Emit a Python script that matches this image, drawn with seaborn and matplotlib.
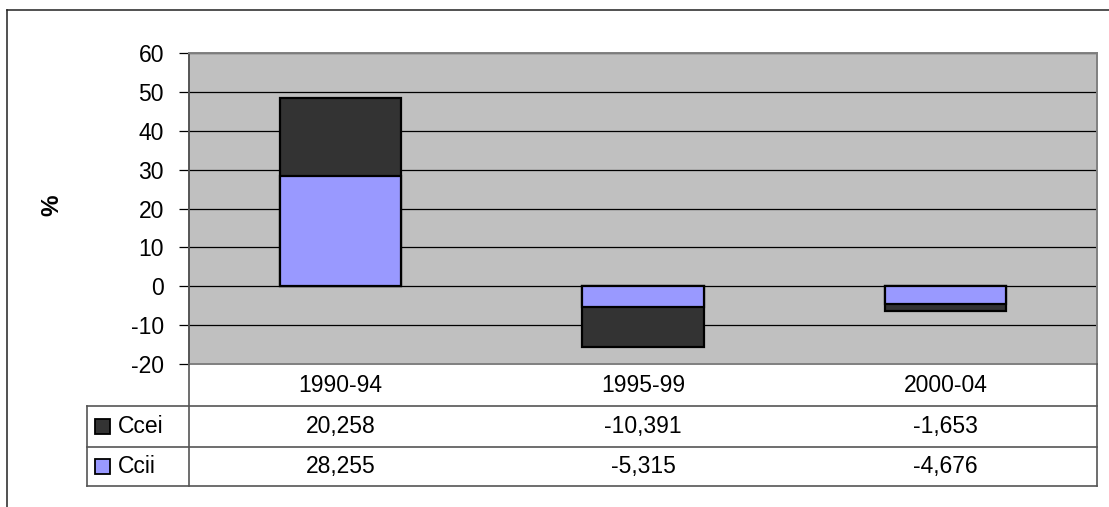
import matplotlib
matplotlib.use("Agg")
import matplotlib.pyplot as plt
import seaborn as sns
import numpy as np
from matplotlib.lines import Line2D
from matplotlib.patches import Rectangle
from matplotlib.transforms import blended_transform_factory

# data
periods = ['1990-94', '1995-99', '2000-04']
ccei = [20.258, -10.391, -1.653]
ccii = [28.255, -5.315, -4.676]
series_names = ['Ccei', 'Ccii']
series_colors = ['#333333', '#9999FF']
yticks = [-20, -10, 0, 10, 20, 30, 40, 50, 60]

plt.rcParams['font.family'] = ['Liberation Sans', 'DejaVu Sans']
FS = 16.5

W, H = 1109, 507
fig = plt.figure(figsize=(W / 100, H / 100), dpi=100)
fig.patch.set_facecolor('white')


def fx(px):
    return px / W


def fy(py):
    return 1 - py / H


# plot area in pixel terms
L, R, T, B = 189, 1097, 53, 364
ax = fig.add_axes([fx(L), fy(B), fx(R - L), (B - T) / H])
ax.set_facecolor('#C0C0C0')

# stacked bars: draw the total first, then Ccii over it
totals = list(np.array(ccii) + np.array(ccei))
sns.barplot(x=periods, y=totals, color=series_colors[0], saturation=1,
            edgecolor='black', linewidth=1.6, width=0.4, ax=ax, zorder=3)
sns.barplot(x=periods, y=ccii, color=series_colors[1], saturation=1,
            edgecolor='black', linewidth=1.6, width=0.4, ax=ax, zorder=4)

ax.set_ylim(-20, 60)
ax.set_yticks(yticks)
ax.set_yticklabels([str(t) for t in yticks], fontsize=FS)
ax.set_axisbelow(True)
ax.yaxis.grid(True, color='black', linewidth=0.9, zorder=0)
ax.xaxis.grid(False)
ax.tick_params(axis='y', length=7, width=0.9, color='black', pad=11, direction='out')
ax.tick_params(axis='x', length=0, labelbottom=False)
ax.set_xlabel('')
ax.set_ylabel('%', fontsize=FS + 1, fontweight='bold')
ax.yaxis.set_label_coords((63 - L) / (R - L), (B - 205) / (B - T))
for side in ['top', 'right', 'bottom']:
    ax.spines[side].set_color('#808080')
    ax.spines[side].set_linewidth(1.4)
ax.spines['left'].set_color('#555555')
ax.spines['left'].set_linewidth(1.4)

# data table under the plot
row_lines = [406, 447, 486]
tl, tr = 87, R
line_kw = dict(color='#555555', linewidth=1.2, transform=fig.transFigure)
for y in row_lines:
    fig.add_artist(Line2D([fx(tl), fx(tr)], [fy(y), fy(y)], **line_kw))
fig.add_artist(Line2D([fx(tl), fx(tl)], [fy(406), fy(486)], **line_kw))
fig.add_artist(Line2D([fx(L), fx(L)], [fy(B), fy(486)], **line_kw))
fig.add_artist(Line2D([fx(tr), fx(tr)], [fy(B), fy(486)], **line_kw))

trans = blended_transform_factory(ax.transData, fig.transFigure)
xpos = ax.get_xticks()
for x, p in zip(xpos, periods):
    ax.text(x, fy(385), p, transform=trans, ha='center', va='center',
            fontsize=FS, clip_on=False)

row_centers = [426.5, 466.5]
for name, color, vals, yc in zip(series_names, series_colors, [ccei, ccii], row_centers):
    fig.add_artist(Rectangle((fx(95), fy(yc + 7)), 15 / W, 15 / H,
                             facecolor=color, edgecolor='black', linewidth=1.3,
                             transform=fig.transFigure))
    fig.text(fx(118), fy(yc), name, ha='left', va='center', fontsize=FS)
    for x, v in zip(xpos, vals):
        ax.text(x, fy(yc), f'{v:.3f}'.replace('.', ','), transform=trans,
                ha='center', va='center', fontsize=FS, clip_on=False)

# chart frame (left and top edges are visible)
frame_kw = dict(color='#222222', linewidth=1.1, transform=fig.transFigure)
fig.add_artist(Line2D([fx(7), fx(7)], [fy(10), 0], **frame_kw))
fig.add_artist(Line2D([fx(7), 1], [fy(10), fy(10)], **frame_kw))

fig.savefig('out.png', dpi=100)
